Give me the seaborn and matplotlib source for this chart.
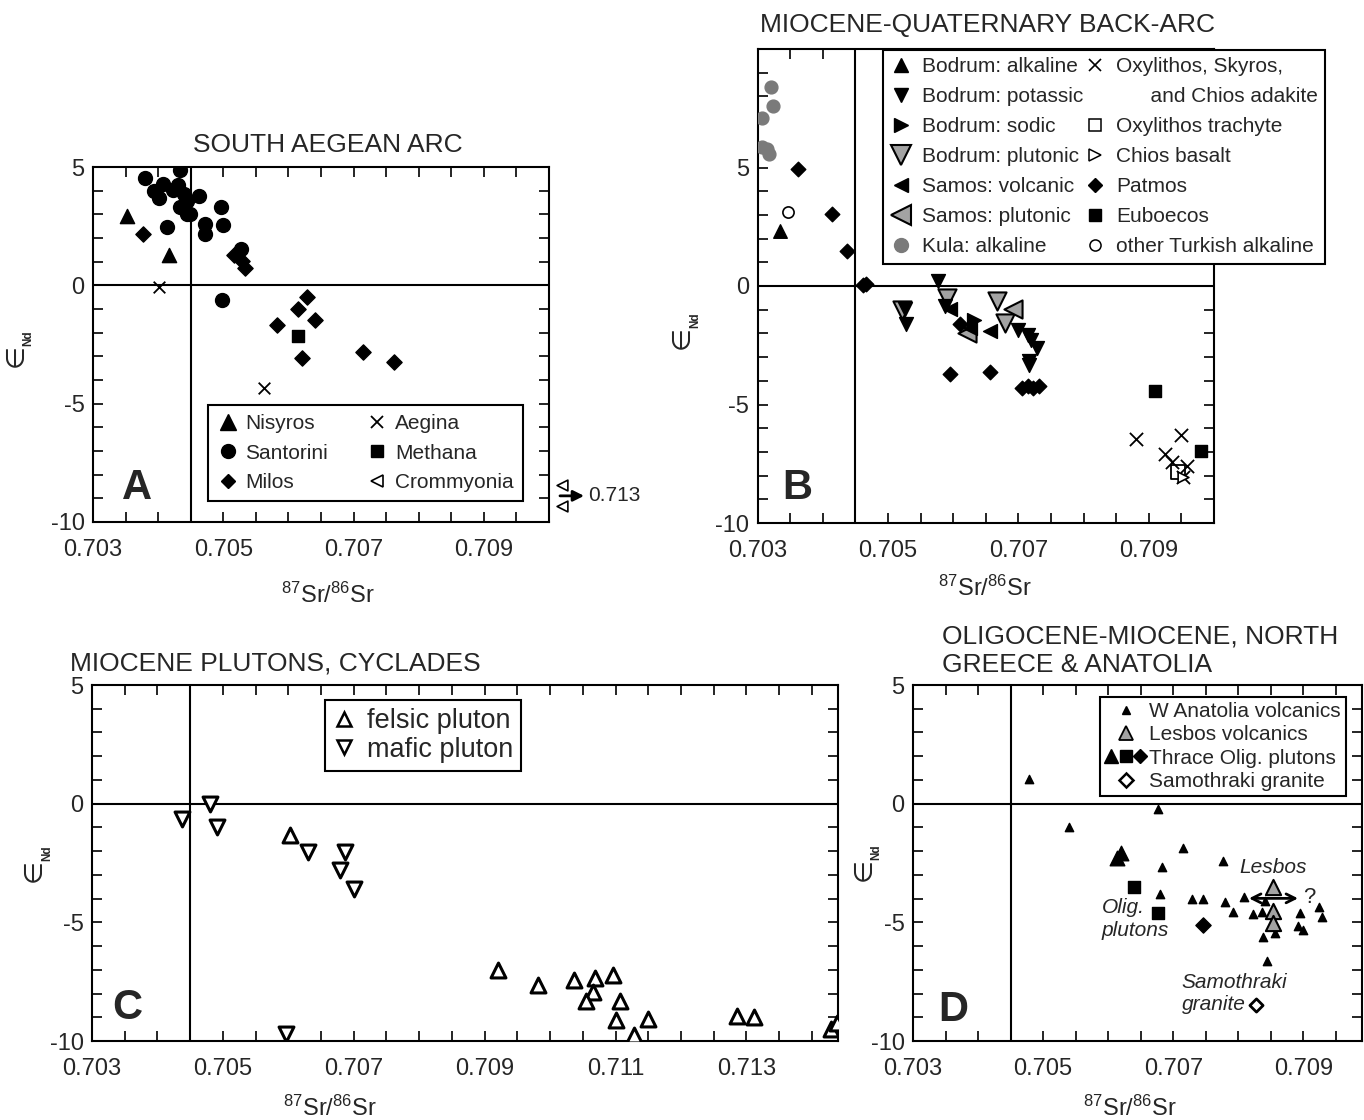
import numpy as np
import pandas as pd
import matplotlib
matplotlib.use("Agg")
import matplotlib.pyplot as plt
import seaborn as sns
from matplotlib.lines import Line2D
from matplotlib.ticker import FixedLocator, MultipleLocator, NullFormatter
from matplotlib.legend_handler import HandlerTuple
from matplotlib.transforms import blended_transform_factory

sns.set_style("ticks")
plt.rcParams['font.family'] = ['Liberation Sans', 'DejaVu Sans']
plt.rcParams['axes.unicode_minus'] = False
plt.rcParams['mathtext.fontset'] = 'custom'
plt.rcParams['mathtext.rm'] = 'Liberation Sans'
plt.rcParams['mathtext.it'] = 'Liberation Sans:italic'
plt.rcParams['mathtext.bf'] = 'Liberation Sans:bold'

# ---------------- Panel A: South Aegean arc ----------------
SANT_SR = [0.70380, 0.70434, 0.70408, 0.70394, 0.70402, 0.70423, 0.70430, 0.70439, 0.70445, 0.70434,
           0.70444, 0.70449, 0.70463, 0.70497, 0.70413, 0.70472, 0.70472, 0.70499, 0.70527, 0.70498]
SANT_ND = [4.55, 4.89, 4.30, 3.98, 3.69, 4.04, 4.22, 3.87, 3.56, 3.31,
           3.00, 3.00, 3.76, 3.31, 2.46, 2.58, 2.18, 2.56, 1.55, -0.63]
NIS_SR = [0.70352, 0.70416]
NIS_ND = [2.92, 1.27]
MIL_SR = [0.70376, 0.70516, 0.70528, 0.70533, 0.70629, 0.70615, 0.70641, 0.70582, 0.70621, 0.70714, 0.70762]
MIL_ND = [2.18, 1.27, 1.03, 0.73, -0.49, -0.99, -1.48, -1.69, -3.06, -2.82, -3.24]
METH_SR = [0.70614]
METH_ND = [-2.14]
AEG_SR = [0.70402, 0.70563]
AEG_ND = [-0.07, -4.32]
CROM_SR = [0.713, 0.713]
CROM_ND = [-8.45, -9.34]

# ---------------- Panel B: Miocene-Quaternary back-arc ----------------
BOD_ALK_SR = [0.70335]
BOD_ALK_ND = [2.33]
BOD_POT_SR = [0.70577, 0.70526, 0.70527, 0.70587, 0.70699, 0.70715, 0.70720, 0.70728, 0.70716, 0.70716]
BOD_POT_ND = [0.21, -0.99, -1.62, -0.85, -1.86, -2.05, -2.26, -2.61, -3.15, -3.32]
BOD_SOD_SR = [0.70632]
BOD_SOD_ND = [-1.45]
BOD_PLU_SR = [0.70591, 0.70522, 0.70667, 0.70680]
BOD_PLU_ND = [-0.49, -1.02, -0.64, -1.55]
SAM_VOL_SR = [0.70595, 0.70626, 0.70656]
SAM_VOL_ND = [-0.99, -1.76, -1.91]
SAM_PLU_SR = [0.70621, 0.70692]
SAM_PLU_ND = [-2.00, -0.99]
KULA_SR = [0.70321, 0.70324, 0.70307, 0.70307, 0.70315, 0.70317]
KULA_ND = [8.38, 7.58, 7.09, 5.86, 5.79, 5.58]
OTURK_SR = [0.70346]
OTURK_ND = [3.11]
PATMOS_SR = [0.70362, 0.70414, 0.70437, 0.70462, 0.70467, 0.70610, 0.70595, 0.70656,
             0.70705, 0.70715, 0.70723, 0.70731]
PATMOS_ND = [4.94, 3.04, 1.48, 0.05, 0.10, -1.62, -3.70, -3.64, -4.30, -4.23, -4.30, -4.23]
EUB_SR = [0.70909, 0.70980]
EUB_ND = [-4.42, -6.95]
OXY_SR = [0.70880, 0.70950, 0.70925, 0.70935, 0.70958, 0.70952]
OXY_ND = [-6.47, -6.28, -7.09, -7.41, -7.60, -8.05]
OXTR_SR = [0.70945]
OXTR_ND = [-7.84]
CHB_SR = [0.70953]
CHB_ND = [-8.05]

# ---------------- Panel C: Miocene plutons, Cyclades ----------------
FEL_SR = [0.70602, 0.70921, 0.70981, 0.71037, 0.71069, 0.71096, 0.71066, 0.71055, 0.71107, 0.71101,
          0.71149, 0.71285, 0.71312, 0.71430, 0.71439, 0.71129]
FEL_ND = [-1.30, -7.00, -7.65, -7.44, -7.35, -7.23, -7.95, -8.30, -8.33, -9.12,
          -9.08, -8.94, -8.98, -9.50, -9.24, -9.75]
MAF_SR = [0.70480, 0.70437, 0.70491, 0.70630, 0.70687, 0.70679, 0.70701, 0.70596]
MAF_ND = [0.00, -0.64, -0.98, -2.04, -2.04, -2.80, -3.59, -9.70]

# ---------------- Panel D: Oligocene-Miocene N Greece & Anatolia ----------------
WAN_SR = [0.70478, 0.70676, 0.70539, 0.70620, 0.70715, 0.70682, 0.70776, 0.70680, 0.70729, 0.70746,
          0.70780, 0.70791, 0.70809, 0.70841, 0.70823, 0.70837, 0.70895, 0.70924, 0.70928, 0.70891,
          0.70900, 0.70838, 0.70856, 0.70844]
WAN_ND = [1.05, -0.21, -0.98, -2.03, -1.85, -2.66, -2.42, -3.82, -4.03, -4.03,
          -4.16, -4.58, -3.92, -4.09, -4.66, -4.55, -4.62, -4.34, -4.76, -5.14,
          -5.32, -5.63, -5.46, -6.65]
LES_SR = [0.70853, 0.70853, 0.70853]
LES_ND = [-3.50, -4.51, -5.02]
THR_TRI_SR = [0.70613, 0.70619]
THR_TRI_ND = [-2.31, -2.06]
THR_SQ_SR = [0.70639, 0.70676]
THR_SQ_ND = [-3.53, -4.62]
THR_DIA_SR = [0.70746]
THR_DIA_ND = [-5.11]
SAMO_SR = [0.70827]
SAMO_ND = [-8.50]
LESBOS_RANGE = [0.70812, 0.70896]

BULK_SR = 0.7045
GREY = '#a3a3a3'
KGREY = '#7a7a7a'

W, H = 1364, 1120
fig = plt.figure(figsize=(W / 100, H / 100), dpi=100)


def rect(l, r, t, b):
    return [l / W, 1 - b / H, (r - l) / W, (b - t) / H]


axA = fig.add_axes(rect(93, 549, 167, 522))
axB = fig.add_axes(rect(757.6, 1214, 49, 523))
axC = fig.add_axes(rect(92, 838, 685, 1041))
axD = fig.add_axes(rect(913, 1362, 685, 1041))


def pts(ax, xs, ys, marker, s, fc, ec='black', lw=1.0, z=3, **kw):
    sns.scatterplot(x=xs, y=ys, ax=ax, marker=marker, s=s, color=fc,
                    edgecolor=ec, linewidth=lw, zorder=z, legend=False, **kw)


def style(ax, xlim, ylim, xlabels, xlab_pos, ylab_pos):
    ax.set_xlim(*xlim)
    ax.set_ylim(*ylim)
    ax.xaxis.set_major_locator(FixedLocator(xlabels))
    ax.xaxis.set_minor_locator(MultipleLocator(0.0005))
    ax.yaxis.set_major_locator(FixedLocator([5, 0, -5, -10]))
    ax.yaxis.set_minor_locator(MultipleLocator(1))
    ax.set_xticklabels([f"{v:.3f}" for v in xlabels])
    ax.set_yticklabels(["5", "0", "-5", "-10"])
    ax.tick_params(which='both', direction='in', top=True, right=True,
                   length=7, width=1.2, color='black', labelsize=17)
    ax.tick_params(axis='x', which='both', pad=12)
    ax.tick_params(axis='y', which='both', pad=6)
    for sp in ax.spines.values():
        sp.set_linewidth(1.5)
        sp.set_color('black')
    ax.axhline(0, color='black', lw=1.5, zorder=1)
    ax.axvline(BULK_SR, color='black', lw=1.5, zorder=1)
    ax.set_xlabel(r"$^{87}$Sr/$^{86}$Sr", fontsize=17, va='center')
    ax.xaxis.set_label_coords(*xlab_pos)
    # epsilon-Nd label: large "∈" with a small bold "Nd" subscript
    ax.set_ylabel("\u2208", fontsize=19, va='center', ha='center',
                  fontfamily=['DejaVu Sans'])
    ax.yaxis.set_label_coords(*ylab_pos)
    ax.annotate("Nd", xy=ylab_pos, xycoords='axes fraction', xytext=(13, 17),
                textcoords='offset pixels', rotation=90, fontsize=8.5, fontweight='bold',
                ha='center', va='center', annotation_clip=False)


def h(marker, ms, fc, ec='black', mew=1.0):
    return Line2D([], [], ls='none', marker=marker, ms=ms, mfc=fc, mec=ec, mew=mew)


legkw = dict(frameon=True, fancybox=False, framealpha=1, edgecolor='black', borderaxespad=0)

# ---------------- Panel A ----------------
pts(axA, SANT_SR, SANT_ND, 'o', 100, 'black')
pts(axA, NIS_SR, NIS_ND, '^', 105, 'black')
pts(axA, MIL_SR, MIL_ND, 'D', 60, 'black')
pts(axA, METH_SR, METH_ND, 's', 85, 'black')
pts(axA, AEG_SR, AEG_ND, 'x', 70, 'black', ec=None, lw=1.3)
trA = blended_transform_factory(axA.transAxes, axA.transData)
pts(axA, [1.028] * len(CROM_SR), CROM_ND, '<', 60, 'white', lw=1.2, clip_on=False, transform=trA)
style(axA, (0.703, 0.710), (-10, 5), [0.703, 0.705, 0.707, 0.709],
      (0.515, -0.206), (-0.170, 0.470))
axA.annotate('', xy=(1.083, np.mean(CROM_ND)), xytext=(1.018, np.mean(CROM_ND)),
             xycoords=trA, textcoords=trA,
             arrowprops=dict(arrowstyle='-|>', lw=2, color='black', mutation_scale=16),
             annotation_clip=False)
axA.text(1.086, np.mean(CROM_ND), f"{CROM_SR[0]:.3f}", transform=trA, va='center', ha='left', fontsize=15)
legA = axA.legend(
    [h('^', 11, 'black'), h('o', 10, 'black'), h('D', 7, 'black'),
     h('x', 8, 'black', mew=1.3), h('s', 9, 'black'), h('<', 8, 'white', mew=1.2)],
    ['Nisyros', 'Santorini', 'Milos', 'Aegina', 'Methana', 'Crommyonia'],
    ncol=2, loc='upper left', bbox_to_anchor=(0.252, 0.330), fontsize=15,
    handlelength=1.0, handletextpad=0.35, columnspacing=1.85, labelspacing=0.5,
    borderpad=0.45, **legkw)
legA.get_frame().set_linewidth(1.5)

# ---------------- Panel B ----------------
pts(axB, KULA_SR, KULA_ND, 'o', 85, KGREY, ec=KGREY)
pts(axB, OTURK_SR, OTURK_ND, 'o', 65, 'white', lw=1.2)
pts(axB, PATMOS_SR, PATMOS_ND, 'D', 55, 'black')
pts(axB, BOD_ALK_SR, BOD_ALK_ND, '^', 95, 'black')
pts(axB, BOD_PLU_SR, BOD_PLU_ND, 'v', 170, GREY, lw=1.5)
pts(axB, SAM_PLU_SR, SAM_PLU_ND, '<', 170, GREY, lw=1.5)
pts(axB, BOD_POT_SR, BOD_POT_ND, 'v', 100, 'black')
pts(axB, BOD_SOD_SR, BOD_SOD_ND, '>', 100, 'black')
pts(axB, SAM_VOL_SR, SAM_VOL_ND, '<', 100, 'black')
pts(axB, EUB_SR, EUB_ND, 's', 85, 'black')
pts(axB, OXY_SR, OXY_ND, 'x', 90, 'black', ec=None, lw=1.3)
pts(axB, OXTR_SR, OXTR_ND, 's', 90, 'white', lw=1.3, z=2)
pts(axB, CHB_SR, CHB_ND, '>', 60, 'white', lw=1.2)
style(axB, (0.703, 0.710), (-10, 10), [0.703, 0.705, 0.707, 0.709],
      (0.498, -0.137), (-0.166, 0.392))
blank = Line2D([], [], ls='none', marker=None)
legB = axB.legend(
    [h('^', 10, 'black'), h('v', 10, 'black'), h('>', 10, 'black'), h('v', 14, GREY, mew=1.5),
     h('<', 10, 'black'), h('<', 14, GREY, mew=1.5), h('o', 10, KGREY, ec=KGREY),
     h('x', 8, 'black', mew=1.2), blank, h('s', 8, 'white', mew=1.1), h('>', 8, 'white', mew=1.1),
     h('D', 7, 'black'), h('s', 8, 'black'), h('o', 8, 'white', mew=1.1)],
    ['Bodrum: alkaline', 'Bodrum: potassic', 'Bodrum: sodic', 'Bodrum: plutonic',
     'Samos: volcanic', 'Samos: plutonic', 'Kula: alkaline',
     'Oxylithos, Skyros,', '      and Chios adakite', 'Oxylithos trachyte', 'Chios basalt',
     'Patmos', 'Euboecos', 'other Turkish alkaline'],
    ncol=2, loc='upper left', bbox_to_anchor=(0.275, 0.998), fontsize=15,
    handlelength=1.0, handletextpad=0.5, columnspacing=0.1, labelspacing=0.53,
    borderpad=0.35, **legkw)
legB.get_frame().set_linewidth(1.5)

# ---------------- Panel C ----------------
pts(axC, FEL_SR, FEL_ND, '^', 115, 'white', lw=2.2)
pts(axC, MAF_SR, MAF_ND, 'v', 115, 'white', lw=2.2)
style(axC, (0.703, 0.7144), (-10, 5), [0.703, 0.705, 0.707, 0.709, 0.711, 0.713],
      (0.319, -0.188), (-0.078, 0.480))
legC = axC.legend([h('^', 10, 'white', mew=1.8), h('v', 10, 'white', mew=1.8)],
                  ['felsic pluton', 'mafic pluton'],
                  loc='upper left', bbox_to_anchor=(0.312, 0.958), fontsize=19.5,
                  handlelength=0.8, handletextpad=0.45, labelspacing=0.1,
                  borderpad=0.3, **legkw)
legC.get_frame().set_linewidth(1.5)

# ---------------- Panel D ----------------
pts(axD, WAN_SR, WAN_ND, '^', 36, 'black')
pts(axD, LES_SR, LES_ND, '^', 120, GREY, lw=1.5)
pts(axD, THR_TRI_SR, THR_TRI_ND, '^', 110, 'black')
pts(axD, THR_SQ_SR, THR_SQ_ND, 's', 85, 'black')
pts(axD, THR_DIA_SR, THR_DIA_ND, 'D', 60, 'black')
pts(axD, SAMO_SR, SAMO_ND, 'D', 45, 'white', lw=2)
style(axD, (0.703, 0.7099), (-10, 5), [0.703, 0.705, 0.707, 0.709],
      (0.483, -0.188), (-0.110, 0.483))
axD.annotate('', xy=(LESBOS_RANGE[1], -3.99), xytext=(LESBOS_RANGE[0], -3.99),
             arrowprops=dict(arrowstyle='<->', lw=2, color='black', mutation_scale=16))
axD.text(LESBOS_RANGE[1] + 0.00003, -3.95, '?', fontsize=16, va='center', ha='left')
axD.text(0.70853, -2.71, 'Lesbos', fontsize=15, style='italic', ha='center', va='center')
axD.text(0.70590, -4.85, 'Olig.\nplutons', fontsize=15, style='italic', ha='left', va='center',
         linespacing=1.25)
axD.text(0.70713, -8.0, 'Samothraki\ngranite', fontsize=15, style='italic', ha='left', va='center',
         linespacing=1.25)
legD = axD.legend(
    [h('^', 6, 'black'), h('^', 10, GREY, mew=1.3),
     (h('^', 10, 'black'), h('s', 9, 'black'), h('D', 7, 'black')),
     h('D', 7, 'white', mew=1.8)],
    ['W Anatolia volcanics', 'Lesbos volcanics', 'Thrace Olig. plutons', 'Samothraki granite'],
    handler_map={tuple: HandlerTuple(ndivide=None, pad=0.1)},
    loc='upper left', bbox_to_anchor=(0.416, 0.966), fontsize=15,
    handlelength=2.0, handletextpad=0.1, labelspacing=0.2, borderpad=0.25, **legkw)
legD.get_frame().set_linewidth(1.5)

# ---------------- titles and panel letters ----------------
def fx(px):
    return px / W


def fy(py):
    return 1 - py / H


fig.text(fx(328), fy(145), 'SOUTH AEGEAN ARC', fontsize=19, ha='center', va='center')
fig.text(fx(760), fy(25), 'MIOCENE-QUATERNARY BACK-ARC', fontsize=19, ha='left', va='center')
fig.text(fx(70), fy(663), 'MIOCENE PLUTONS, CYCLADES', fontsize=19, ha='left', va='center')
fig.text(fx(942), fy(651), 'OLIGOCENE-MIOCENE, NORTH\nGREECE & ANATOLIA', fontsize=19,
         ha='left', va='center', linespacing=1.25)
for letter, (px, py) in zip('ABCD', [(137, 488), (797, 488), (127, 1008), (953, 1010)]):
    fig.text(fx(px), fy(py), letter, fontsize=30, fontweight='bold', ha='center', va='center')

fig.savefig('out.png', dpi=100)
